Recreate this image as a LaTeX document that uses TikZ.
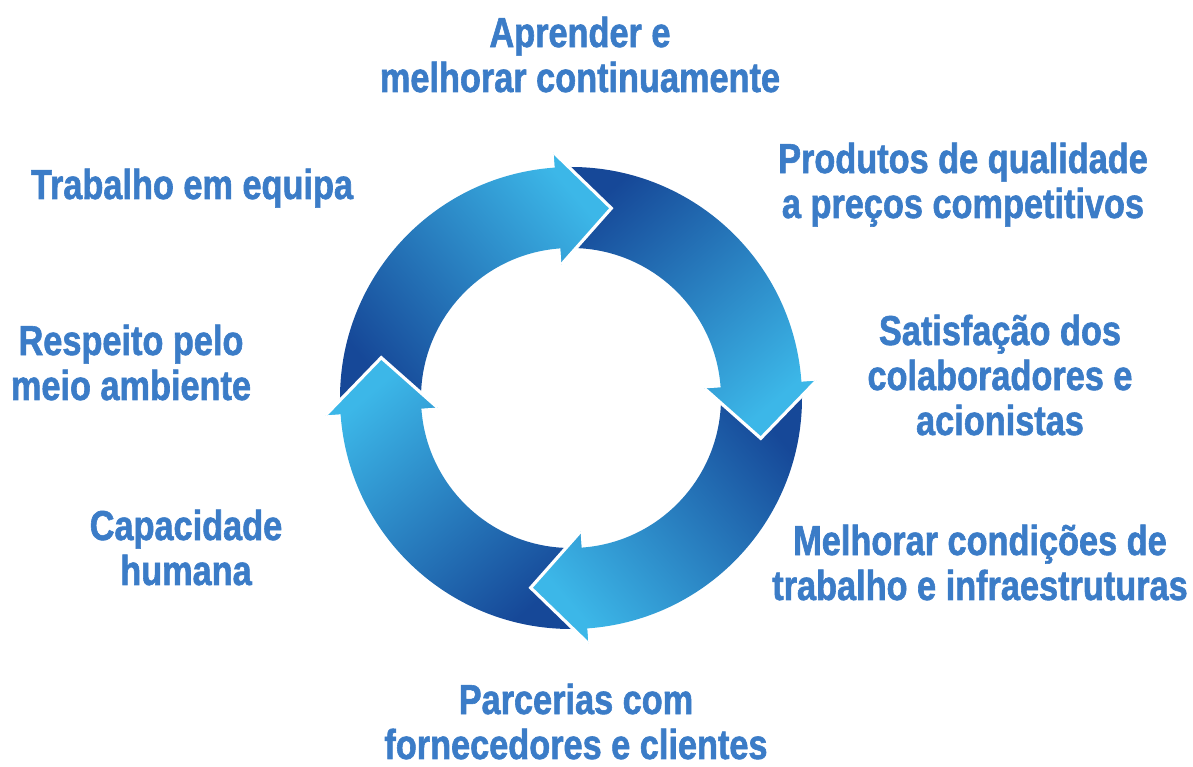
\documentclass[tikz,border=0pt]{standalone}
\usepackage{fontspec}
\newfontfamily\labelfont{Liberation Sans}[FakeStretch=0.82, FakeBold=1.4]

\definecolor{ringdark}{RGB}{22,72,152}
\definecolor{ringlight}{RGB}{60,183,232}
\definecolor{labelblue}{RGB}{59,124,199}

\tikzset{
  lbl/.style={align=center, text=labelblue, inner sep=0pt, anchor=base,
    font=\labelfont\bfseries\fontsize{23.8}{25.6}\selectfont},
  ringshade/.style={top color=ringlight, bottom color=ringdark, shading angle=#1},
  notch/.style={white, line width=1.8pt, line join=miter}
}

\begin{document}
\begin{tikzpicture}[x=0.2mm, y=0.2mm]

    \useasboundingbox (0,0) rectangle (1193,767);

    \begin{scope}[shift={(571,369)}]
        % the four bent arrows of the ring
        \foreach \sang/\tang in {183/78, 93/-12, 3/-102, -87/-192} {
            \pgfmathsetmacro\bang{\tang+16}
            \pgfmathsetmacro\shang{(\sang+\tang)/2-180}
            \shade[ringshade=\shang] (\sang:231) arc[start angle=\sang, end angle=\bang, radius=231]
                -- (\bang:246) -- (\tang:194) -- (\bang:134) -- (\bang:150)
                arc[start angle=\bang, end angle=\sang, radius=150] -- cycle;
        }
        % heads again on top, with a white rim
        \foreach \sang/\tang in {183/78, 93/-12, 3/-102, -87/-192} {
            \pgfmathsetmacro\bang{\tang+16}
            \pgfmathsetmacro\shang{(\sang+\tang)/2-180}
            \begin{scope}
                \clip (\bang:246) -- (\tang:194) -- (\bang:134) -- cycle;
                \shade[ringshade=\shang] (\sang:231) arc[start angle=\sang, end angle=\bang, radius=231]
                    -- (\bang:246) -- (\tang:194) -- (\bang:134) -- (\bang:150)
                    arc[start angle=\bang, end angle=\sang, radius=150] -- cycle;
            \end{scope}
            \draw[notch] (\bang:246) -- (\tang:194) -- (\bang:134);
        }
    \end{scope}

    \node[lbl] (learn) at (580,675) {Aprender e\\melhorar continuamente};
    \node[lbl] (quality) at (963,549) {Produtos de qualidade\\a preços competitivos};
    \node[lbl] (team) at (192,568) {Trabalho em equipa};
    \node[lbl] (satisfaction) at (1000,332) {Satisfação dos\\colaboradores e\\acionistas};
    \node[lbl] (respect) at (131,367) {Respeito pelo\\meio ambiente};
    \node[lbl] (capacity) at (186,182) {Capacidade\\humana};
    \node[lbl] (conditions) at (980,167) {Melhorar condições de\\trabalho e infraestruturas};
    \node[lbl] (partners) at (576,8) {Parcerias com\\fornecedores e clientes};

\end{tikzpicture}
\end{document}
